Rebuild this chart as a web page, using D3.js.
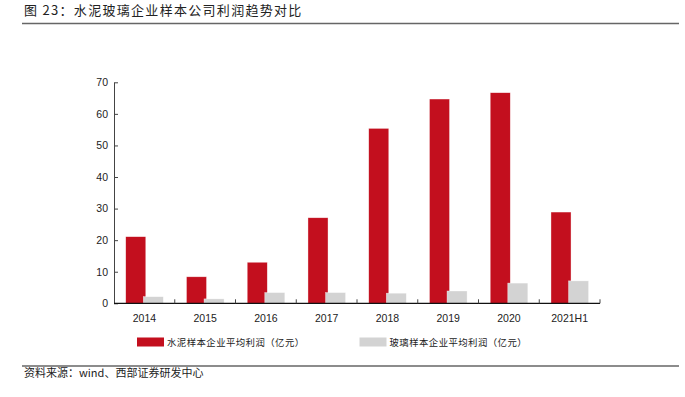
<!DOCTYPE html>
<html>
<head>
<meta charset="utf-8">
<script src="https://cdn.jsdelivr.net/npm/d3@7"></script>
<style>
  html, body { margin: 0; padding: 0; background: #fff; }
  svg { display: block; }
  .cjk { font-family: "Noto Sans CJK SC", "Noto Sans", sans-serif; }
  .num { font-family: "Liberation Sans", Arial, sans-serif; }
</style>
</head>
<body>
<div id="chart"></div>
<script>
// data
const categories = ['2014', '2015', '2016', '2017', '2018', '2019', '2020', '2021H1'];
const cementProfit = [21.1, 8.4, 13.0, 27.1, 55.4, 64.7, 66.7, 28.9];
const glassProfit = [2.1, 1.4, 3.4, 3.4, 3.2, 3.9, 6.4, 7.1];
const yTicks = [0, 10, 20, 30, 40, 50, 60, 70];
const seriesNames = ['水泥样本企业平均利润（亿元）', '玻璃样本企业平均利润（亿元）'];
const colors = ['#c30f1e', '#d3d3d3'];

const W = 685, H = 397;
const svg = d3.select('#chart').append('svg')
    .attr('width', W)
    .attr('height', H);

// title + rules
svg.append('text')
    .attr('class', 'cjk')
    .attr('x', 24)
    .attr('y', 15)
    .attr('font-size', 13)
    .attr('letter-spacing', 1.3)
    .attr('fill', '#222')
    .text('图 23：水泥玻璃企业样本公司利润趋势对比');

svg.append('line')
    .attr('x1', 22).attr('x2', 679)
    .attr('y1', 23.5).attr('y2', 23.5)
    .attr('stroke', '#666').attr('stroke-width', 1.5);

svg.append('line')
    .attr('x1', 22).attr('x2', 679)
    .attr('y1', 366).attr('y2', 366)
    .attr('stroke', '#666').attr('stroke-width', 1.5);

svg.append('text')
    .attr('class', 'cjk')
    .attr('x', 24)
    .attr('y', 377)
    .attr('font-size', 11)
    .attr('fill', '#222')
    .text('资料来源：wind、西部证券研发中心');

// scales
const x = d3.scaleBand()
    .domain(categories)
    .range([114, 600])
    .padding(0);

const y = d3.scaleLinear()
    .domain([0, 70])
    .range([303.3, 82.3]);

const bw = x.bandwidth();
const barW = bw * 0.33;
const offsets = [bw * 0.193, bw * 0.482];

// y axis (ticks point inward)
svg.append('g')
    .attr('transform', 'translate(114,0)')
    .call(d3.axisLeft(y).tickValues(yTicks).tickSize(-4).tickSizeOuter(0).tickPadding(6))
    .call(g => {
        g.select('.domain').attr('stroke', '#444');
        g.selectAll('.tick line').attr('stroke', '#444');
        g.selectAll('text')
            .attr('class', 'num')
            .attr('font-size', 10.5)
            .attr('fill', '#222');
    });

// bars
const series = [cementProfit, glassProfit];
series.forEach((vals, si) => {
    svg.append('g').selectAll('rect')
        .data(categories.map((c, i) => ({ c, v: vals[i] })))
        .enter().append('rect')
        .attr('x', d => x(d.c) + offsets[si])
        .attr('y', d => y(d.v))
        .attr('width', barW)
        .attr('height', d => y(0) - y(d.v))
        .attr('fill', colors[si])
        .attr('stroke', '#fff')
        .attr('stroke-opacity', 0.6)
        .attr('stroke-width', 0.6);
});

// x axis: labels centred, ticks on category boundaries
svg.append('g')
    .attr('transform', `translate(0,${y(0)})`)
    .call(d3.axisBottom(x).tickSize(0).tickPadding(11))
    .call(g => {
        g.select('.domain').remove();
        g.selectAll('text')
            .attr('class', 'num')
            .attr('font-size', 10.5)
            .attr('fill', '#222');
    });

svg.append('line')
    .attr('x1', 114).attr('x2', 600)
    .attr('y1', y(0)).attr('y2', y(0))
    .attr('stroke', '#111').attr('stroke-width', 1.2);

const bounds = categories.slice(1).map(c => x(c)).concat([x.range()[1]]);
svg.append('g').selectAll('line')
    .data(bounds)
    .enter().append('line')
    .attr('x1', d => d).attr('x2', d => d)
    .attr('y1', y(0)).attr('y2', y(0) - 4)
    .attr('stroke', '#444');

// legend
const legendX = [137, 359.5];
const legend = svg.append('g').selectAll('g')
    .data(seriesNames)
    .enter().append('g')
    .attr('transform', (d, i) => `translate(${legendX[i]},337.5)`);

legend.append('rect')
    .attr('width', 27)
    .attr('height', 9)
    .attr('fill', (d, i) => colors[i]);

legend.append('text')
    .attr('class', 'cjk')
    .attr('x', 30)
    .attr('y', 8.5)
    .attr('font-size', 9.4)
    .attr('letter-spacing', 0.45)
    .attr('fill', '#222')
    .text(d => d);
</script>
</body>
</html>
